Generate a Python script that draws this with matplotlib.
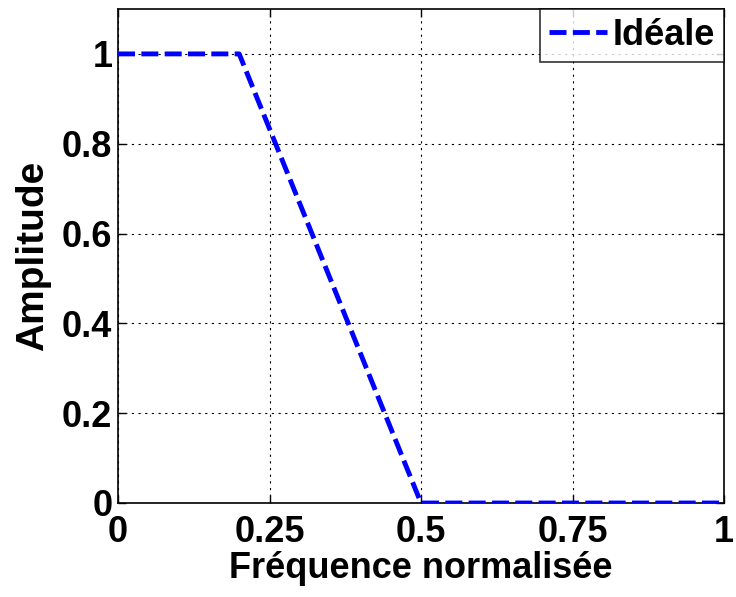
import matplotlib
matplotlib.use("Agg")
import matplotlib.pyplot as plt

freq = [0, 0.2, 0.5, 1.0]
amp = [1, 1, 0, 0]
xticks = [0, 0.25, 0.5, 0.75, 1]
xticklabels = ["0", "0.25", "0.5", "0.75", "1"]
yticks = [0, 0.2, 0.4, 0.6, 0.8, 1]
yticklabels = ["0", "0.2", "0.4", "0.6", "0.8", "1"]

plt.rcParams['font.family'] = ['Liberation Sans', 'DejaVu Sans']
plt.rcParams['font.weight'] = 'bold'

fig = plt.figure(figsize=(7.36, 5.97), dpi=100)
ax = fig.add_axes([118/736, 1-503/597, (724-118)/736, (503-9)/597])
ax.plot(freq, amp, color=(0, 0, 1), lw=3.5, ls=(0, (3.5, 1.3)), label="Idéale", zorder=3)
ax.set_xlim(0, 1)
ax.set_ylim(0, 1.1)
ax.set_xticks(xticks)
ax.set_xticklabels(xticklabels)
ax.set_yticks(yticks)
ax.set_yticklabels(yticklabels)
ax.tick_params(direction='in', top=True, right=True, labelsize=26, length=6, width=1)
ax.tick_params(axis='x', pad=9)
ax.tick_params(axis='y', pad=4)
ax.grid(True, color='black', ls=(0, (2, 4)), lw=0.8)
for s in ax.spines.values():
    s.set_linewidth(1.2)
ax.set_xlabel("Fréquence normalisée", fontsize=26, fontweight='bold', labelpad=0)
ax.set_ylabel("Amplitude", fontsize=28, fontweight='bold', labelpad=8)
leg = ax.legend(loc='upper right', fontsize=26, frameon=True, fancybox=False,
                borderaxespad=0, handlelength=1.6, handletextpad=0.15, borderpad=0.25)
leg.get_frame().set_edgecolor('black')
leg.get_frame().set_linewidth(1.2)
fig.savefig("out.png", dpi=100)
